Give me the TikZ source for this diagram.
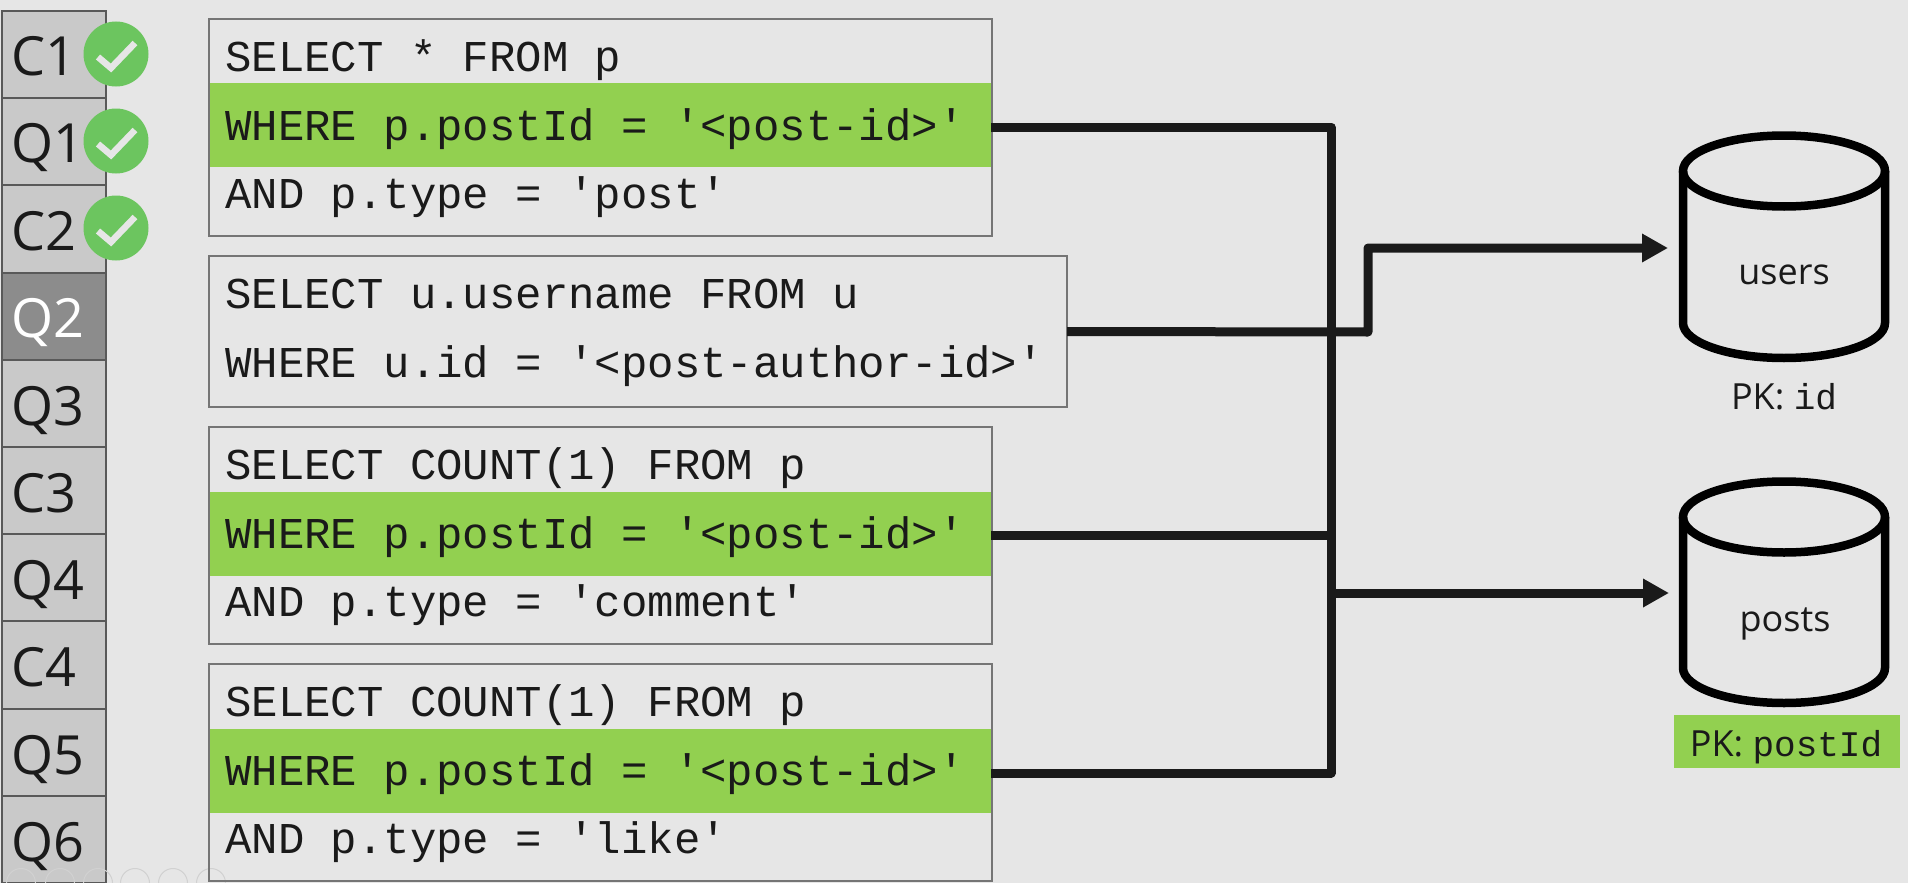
\documentclass[tikz,border=0pt]{standalone}
\usepackage{fontspec}
\setmainfont{Open Sans}
\setmonofont{Liberation Mono}
\usetikzlibrary{arrows.meta}
\definecolor{slidebg}{HTML}{E6E6E6}
\definecolor{hitgreen}{HTML}{92D050}
\definecolor{okgreen}{HTML}{6CC55F}
\definecolor{inkdark}{HTML}{1A1A1A}
\tikzset{
    seqcell/.style={draw=black!65,line width=2pt,fill=black!21,anchor=north west,minimum width=104pt,minimum height=87.2pt,inner sep=0pt,outer sep=0pt},
    seqtext/.style={anchor=base west,inner sep=0pt,text=inkdark,font=\fontsize{54}{60}\selectfont},
    okmark/.style={circle,fill=okgreen,minimum size=65pt,inner sep=0pt},
    tick/.style={draw=slidebg,line width=6.5pt},
    toolring/.style={draw=black!18,line width=1pt},
    querybox/.style={draw=black!54,line width=1.5pt,anchor=north west,minimum height=217pt,inner sep=0pt,outer sep=0pt},
    hitrow/.style={fill=hitgreen,anchor=north west,minimum width=782pt,minimum height=84pt,inner sep=0pt,outer sep=0pt},
    sqlline/.style={anchor=base west,inner sep=0pt,text=inkdark,font=\ttfamily\fontsize{44}{50}\selectfont},
    link/.style={draw=inkdark,line width=9pt,line join=round},
    linkhead/.style={-{Triangle[length=26pt,width=27pt]}},
    dbline/.style={draw=black,line width=8.5pt},
    dbspot/.style={minimum width=222pt,minimum height=230pt,inner sep=0pt,outer sep=0pt},
    dblabel/.style={inner sep=0pt,text=inkdark,font=\fontsize{36}{40}\selectfont},
}
\begin{document}
\begin{tikzpicture}[x=1pt,y=-1pt]
            \useasboundingbox [fill=slidebg] (0,0) rectangle (1908,883);
            % sequence column
            \node [seqcell] (c1cell) at (2,11) {};
            \node [seqcell] (q1cell) at (2,98.2) {};
            \node [seqcell] (c2cell) at (2,185.4) {};
            \node [seqcell,fill=black!45] (q2cell) at (2,272.6) {};
            \node [seqcell] (q3cell) at (2,359.8) {};
            \node [seqcell] (c3cell) at (2,447) {};
            \node [seqcell] (q4cell) at (2,534.2) {};
            \node [seqcell] (c4cell) at (2,621.4) {};
            \node [seqcell] (q5cell) at (2,708.6) {};
            \node [seqcell] (q6cell) at (2,795.8) {};
            \node [seqtext] (c1text) at (11,75) {C1};
            \node [seqtext] (q1text) at (11,162) {Q1};
            \node [seqtext] (c2text) at (11,250) {C2};
            \node [seqtext,text=white] (q2text) at (11,337) {Q2};
            \node [seqtext] (q3text) at (11,425) {Q3};
            \node [seqtext] (c3text) at (11,512) {C3};
            \node [seqtext] (q4text) at (11,599) {Q4};
            \node [seqtext] (c4text) at (11,686) {C4};
            \node [seqtext] (q5text) at (11,774) {Q5};
            \node [seqtext] (q6text) at (11,861) {Q6};
            \node [okmark] (c1ok) at (116,54) {};
            \node [okmark] (q1ok) at (116,141) {};
            \node [okmark] (c2ok) at (116,228) {};
            \draw [tick] (c1ok) ++(-18,3) -- ++(13,11) -- ++(24,-25);
            \draw [tick] (q1ok) ++(-18,3) -- ++(13,11) -- ++(24,-25);
            \draw [tick] (c2ok) ++(-18,3) -- ++(13,11) -- ++(24,-25);
            % slide show buttons
            \draw [toolring] (21,883) circle (14.5pt);
            \draw [toolring] (60,883) circle (14.5pt);
            \draw [toolring] (98,883) circle (14.5pt);
            \draw [toolring] (135,883) circle (14.5pt);
            \draw [toolring] (173,883) circle (14.5pt);
            \draw [toolring] (211,883) circle (14.5pt);
            % queries
            \node [hitrow] (q1hit) at (209,83) {};
            \node [hitrow] (q3hit) at (209,491.5) {};
            \node [hitrow] (q4hit) at (209,729) {};
            \node [querybox,minimum width=783pt] (q1box) at (209,19) {};
            \node [querybox,minimum width=858pt,minimum height=151pt] (q2box) at (209,256) {};
            \node [querybox,minimum width=783pt] (q3box) at (209,427) {};
            \node [querybox,minimum width=783pt] (q4box) at (209,664) {};
            \node [sqlline] (q1a) at (225,71) {SELECT * FROM p};
            \node [sqlline] (q1b) at (225,140) {WHERE p.postId = '<post-id>'};
            \node [sqlline] (q1c) at (225,208) {AND p.type = 'post'};
            \node [sqlline] (q2a) at (225,308) {SELECT u.username FROM u};
            \node [sqlline] (q2b) at (225,377) {WHERE u.id = '<post-author-id>'};
            \node [sqlline] (q3a) at (225,479) {SELECT COUNT(1) FROM p};
            \node [sqlline] (q3b) at (225,548) {WHERE p.postId = '<post-id>'};
            \node [sqlline] (q3c) at (225,616) {AND p.type = 'comment'};
            \node [sqlline] (q4a) at (225,716) {SELECT COUNT(1) FROM p};
            \node [sqlline] (q4b) at (225,785) {WHERE p.postId = '<post-id>'};
            \node [sqlline] (q4c) at (225,853) {AND p.type = 'like'};
            % containers
            \draw [dbline] (1784,171) ellipse (101pt and 35.5pt);
            \draw [dbline] (1683,171) -- (1683,323) arc (180:360:101pt and 35pt) -- (1885,171);
            \draw [dbline] (1784,517) ellipse (101pt and 35.5pt);
            \draw [dbline] (1683,517) -- (1683,668) arc (180:360:101pt and 35pt) -- (1885,517);
            \node [dbspot] (users) at (1779,248) {};
            \node [dbspot] (posts) at (1780,593) {};
            \node [dblabel] (userslabel) at (1784,275) {users};
            \node [dblabel] (postslabel) at (1785,624) {posts};
            \node [dblabel] (userspk) at (1784,397) {PK: \texttt{id}};
            \node [fill=hitgreen,anchor=north west,minimum width=226pt,minimum height=53pt,inner sep=0pt] (postspkbox) at (1674,715) {};
            \node [dblabel] (postspk) at (1786,747) {PK: \texttt{postId}};
            % connectors
            \coordinate (busdrop) at (1331,593);
            \coordinate (kink) at (1368,332);
            \draw [link] ([yshift=-2pt]q1hit.east) -| (busdrop);
            \draw [link] ([yshift=-2pt]q3hit.east) -| (busdrop);
            \draw [link] ([yshift=-2pt]q4hit.east) -| (busdrop);
            \draw [link,linkhead] (q2box.east) -- (kink) |- (users.west);
            \draw [link,linkhead] (busdrop) -- (posts.west);
\end{tikzpicture}
\end{document}
